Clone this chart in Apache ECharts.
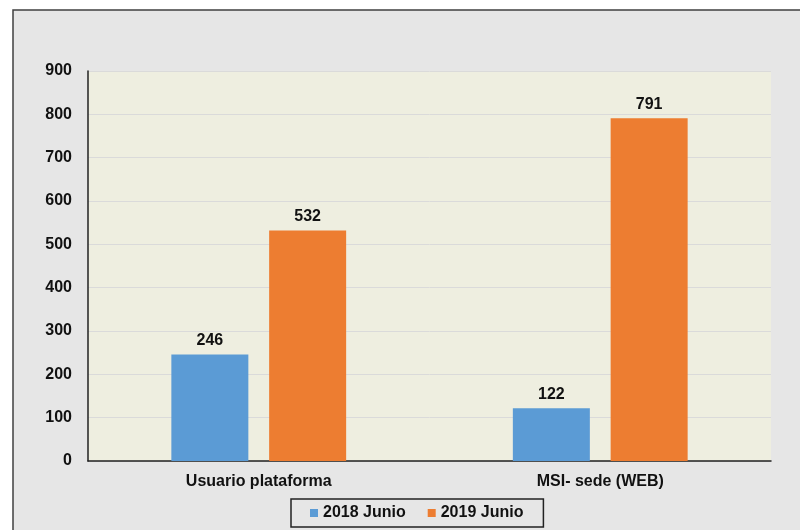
<!DOCTYPE html>
<html>
<head>
<meta charset="utf-8">
<script src="https://cdn.jsdelivr.net/npm/echarts@6/dist/echarts.min.js"></script>
<style>
  html, body { margin: 0; padding: 0; background: #fff; }
  #main { width: 800px; height: 530px; }
</style>
</head>
<body>
<div id="main"></div>
<script>
// datos
var categorias = ['Usuario plataforma', 'MSI- sede (WEB)'];
var serie2018 = [246, 122];
var serie2019 = [532, 791];
var nombres = ['2018 Junio', '2019 Junio'];

var chart = echarts.init(document.getElementById('main'));
var fuente = 'Liberation Sans, Arial, sans-serif';

var option = {
  backgroundColor: '#ffffff',
  animation: false,
  textStyle: { fontFamily: fuente },
  graphic: [
    {
      type: 'rect',
      z: -10,
      shape: { x: 13, y: 10, width: 820, height: 540 },
      style: { fill: '#e6e6e6', stroke: '#404040', lineWidth: 1.5 }
    },
    {
      type: 'rect',
      z: -9,
      shape: { x: 88, y: 71, width: 683, height: 390 },
      style: { fill: '#eeeee0' }
    }
  ],
  grid: { left: 88, right: 29, top: 71, bottom: 69 },
  legend: {
    data: nombres,
    left: 291,
    top: 499,
    itemWidth: 8,
    itemHeight: 8,
    itemGap: 22,
    icon: 'rect',
    padding: [6, 20, 6, 19],
    borderColor: '#222',
    borderWidth: 1.5,
    textStyle: { fontSize: 16, fontWeight: 'bold', color: '#111', fontFamily: fuente }
  },
  xAxis: {
    type: 'category',
    data: categorias,
    axisLine: { lineStyle: { color: '#222', width: 1.5 } },
    axisTick: { show: false },
    axisLabel: { fontSize: 16, fontWeight: 'bold', color: '#111', margin: 13, fontFamily: fuente }
  },
  yAxis: {
    type: 'value',
    min: 0,
    max: 900,
    interval: 100,
    axisLine: { show: true, lineStyle: { color: '#222', width: 1.5 } },
    axisTick: { show: false },
    splitLine: { lineStyle: { color: '#dadada', width: 1 } },
    axisLabel: { fontSize: 16, fontWeight: 'bold', color: '#111', margin: 16, fontFamily: fuente }
  },
  series: [
    {
      name: nombres[0],
      type: 'bar',
      data: serie2018,
      barWidth: 77,
      barGap: '27%',
      itemStyle: { color: '#5b9bd5' },
      label: { show: true, position: 'top', distance: 6, fontSize: 16, fontWeight: 'bold', color: '#111', fontFamily: fuente }
    },
    {
      name: nombres[1],
      type: 'bar',
      data: serie2019,
      barWidth: 77,
      barGap: '27%',
      itemStyle: { color: '#ed7d31' },
      label: { show: true, position: 'top', distance: 6, fontSize: 16, fontWeight: 'bold', color: '#111', fontFamily: fuente }
    }
  ]
};
chart.setOption(option);
</script>
</body>
</html>
